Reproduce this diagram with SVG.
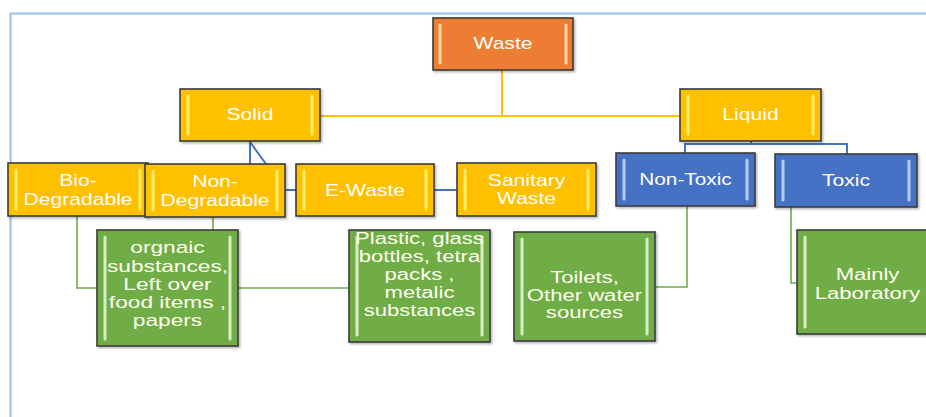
<svg xmlns="http://www.w3.org/2000/svg" width="926" height="417" viewBox="0 0 926 417">
<defs>
<filter id="sh" x="-10%" y="-10%" width="130%" height="130%">
<feDropShadow dx="1.5" dy="1.5" stdDeviation="1" flood-color="#000" flood-opacity="0.3"/>
</filter>
</defs>
<style>
.box{stroke:#3b3b3b;stroke-width:1.6;filter:url(#sh)}
.or{fill:#ED7D31}.ye{fill:#FFC000}.bl{fill:#4472C4}.gr{fill:#70AD47}
.st{stroke-width:3;stroke-linecap:round;fill:none}
.sor{stroke:#FFD6A6}.sye{stroke:#FFF06A}.sbl{stroke:#B4CCF2}.sgr{stroke:#D8EEC6}
text{font-family:"Liberation Sans","Open Sans",sans-serif;font-size:16px;fill:#fff;text-anchor:middle}
.gt{fill:#FFFFEE}
.cy{stroke:#FFC000;stroke-width:2;fill:none}
.cb{stroke:#4472C4;stroke-width:2;fill:none}
.cg{stroke:#70AD47;stroke-width:1.6;fill:none}
.frame{stroke:#9DC3E6;stroke-width:2.2;fill:none}
</style>
<path class="frame" d="M10.5,417 V13.5 H926"/>
<g id="connectors">
<path class="cy" d="M502,70 V116 M320,116 H680"/>
<path class="cb" d="M250,141 V164" stroke-width="3"/>
<path class="cb" d="M250,142 L266,164"/>
<path class="cb" d="M285,190 H296 M434,190 H457"/>
<path class="cb" d="M751,141 V144 M685,153 V144 H847 V154"/>
<path class="cg" d="M77,216 V288 H97"/>
<path class="cg" d="M213,217 V230"/>
<path class="cg" d="M238,288 H349"/>
<path class="cg" d="M687,206 V287 H655"/>
<path class="cg" d="M791,207 V283 H796"/>
</g>
<g id="waste">
<rect class="box or" x="433" y="18" width="140" height="52"/>
<path class="st sor" d="M440,25 V63 M566,25 V63"/>
<text transform="translate(503,0) scale(1.32,1)" x="0" y="49">Waste</text>
</g>
<g id="solid">
<rect class="box ye" x="180" y="89" width="140" height="52"/>
<path class="st sye" d="M188,96 V134 M312,96 V134"/>
<text transform="translate(250,0) scale(1.32,1)" x="0" y="120">Solid</text>
</g>
<g id="liquid">
<rect class="box ye" x="680" y="89" width="141" height="52"/>
<path class="st sye" d="M688,96 V134 M813,96 V134"/>
<text transform="translate(750.5,0) scale(1.32,1)" x="0" y="120">Liquid</text>
</g>
<g id="bio">
<rect class="box ye" x="8" y="163" width="140" height="53"/>
<path class="st sye" d="M16,170 V209 M140,170 V209"/>
<text transform="translate(78,0) scale(1.32,1)"><tspan x="0" y="186">Bio-</tspan><tspan x="0" y="205">Degradable</tspan></text>
</g>
<g id="nondeg">
<rect class="box ye" x="145" y="164" width="140" height="53"/>
<path class="st sye" d="M153,171 V210 M277,171 V210"/>
<text transform="translate(215,0) scale(1.32,1)"><tspan x="0" y="187">Non-</tspan><tspan x="0" y="206">Degradable</tspan></text>
</g>
<g id="ewaste">
<rect class="box ye" x="296" y="164" width="138" height="52"/>
<path class="st sye" d="M304,171 V209 M426,171 V209"/>
<text transform="translate(365,0) scale(1.32,1)" x="0" y="196">E-Waste</text>
</g>
<g id="sanitary">
<rect class="box ye" x="457" y="163" width="139" height="53"/>
<path class="st sye" d="M465,170 V209 M588,170 V209"/>
<text transform="translate(526.5,0) scale(1.32,1)"><tspan x="0" y="186">Sanitary</tspan><tspan x="0" y="204">Waste</tspan></text>
</g>
<g id="nontoxic">
<rect class="box bl" x="616" y="153" width="139" height="53"/>
<path class="st sbl" d="M624,160 V199 M747,160 V199"/>
<text transform="translate(685.5,0) scale(1.3,1)" x="0" y="185">Non-Toxic</text>
</g>
<g id="toxic">
<rect class="box bl" x="775" y="154" width="142" height="53"/>
<path class="st sbl" d="M783,161 V200 M909,161 V200"/>
<text transform="translate(846,0) scale(1.32,1)" x="0" y="186">Toxic</text>
</g>
<g id="organic">
<rect class="box gr" x="97" y="230" width="141" height="116"/>
<path class="st sgr" d="M105,237 V339 M230,237 V339"/>
<text class="gt" transform="translate(167.5,0) scale(1.42,1)"><tspan x="0" y="253">orgnaic</tspan><tspan x="0" y="272">substances,</tspan><tspan x="0" y="290">Left over</tspan><tspan x="0" y="308">food items ,</tspan><tspan x="0" y="326">papers</tspan></text>
</g>
<g id="plastic">
<rect class="box gr" x="349" y="230" width="141" height="112"/>
<path class="st sgr" d="M357,237 V335 M482,237 V335"/>
<text class="gt" transform="translate(419.5,0) scale(1.38,1)"><tspan x="0" y="244">Plastic, glass</tspan><tspan x="0" y="262">bottles, tetra</tspan><tspan x="0" y="280">packs ,</tspan><tspan x="0" y="298">metalic</tspan><tspan x="0" y="316">substances</tspan></text>
</g>
<g id="toilets">
<rect class="box gr" x="514" y="232" width="141" height="109"/>
<path class="st sgr" d="M522,239 V334 M647,239 V334"/>
<text class="gt" transform="translate(584.5,0) scale(1.38,1)"><tspan x="0" y="283">Toilets,</tspan><tspan x="0" y="301">Other water</tspan><tspan x="0" y="318">sources</tspan></text>
</g>
<g id="lab">
<rect class="box gr" x="797" y="230" width="141" height="104"/>
<path class="st sgr" d="M805,237 V327 M930,237 V327"/>
<text class="gt" transform="translate(867.5,0) scale(1.38,1)"><tspan x="0" y="280">Mainly</tspan><tspan x="0" y="299">Laboratory</tspan></text>
</g>
</svg>
